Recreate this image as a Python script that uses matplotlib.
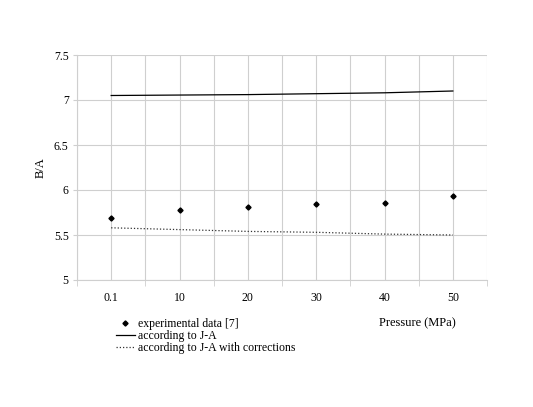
import matplotlib
matplotlib.use("Agg")
import matplotlib.pyplot as plt
import numpy as np

categories = ["0.1", "10", "20", "30", "40", "50"]
experimental = [5.69, 5.78, 5.81, 5.84, 5.86, 5.93]
ja = [7.05, 7.055, 7.06, 7.07, 7.08, 7.10]
ja_corr = [5.58, 5.56, 5.54, 5.53, 5.51, 5.50]
yticks = [5, 5.5, 6, 6.5, 7, 7.5]
ytick_labels = ["5", "5.5", "6", "6.5", "7", "7.5"]

plt.rcParams['font.family'] = 'serif'
plt.rcParams['font.serif'] = ['Liberation Serif', 'DejaVu Serif']
fs = 8.5
grid_c = "#cfcfcf"

fig = plt.figure(figsize=(5.33, 4.07), dpi=100)
ax = fig.add_axes([77/533, 1-280/407, (487-77)/533, (280-55)/407])

x = np.arange(len(categories))
ax.plot(x, experimental, linestyle="none", marker="D", markersize=2.6,
        color="black", label="experimental data [7]")
ax.plot(x, ja, color="black", linewidth=0.9, label="according to J-A")
ax.plot(x, ja_corr, color="#333333", linewidth=0.9, linestyle=(0, (1, 1.6)),
        label="according to J-A with corrections")

ax.set_xlim(-0.5, len(categories) - 0.5)
ax.set_ylim(5, 7.5)
ax.set_xticks(x)
ax.set_xticklabels(categories, fontsize=fs)
ax.set_xticks(np.arange(-0.5, len(categories), 1.0), minor=True)
ax.tick_params(axis="x", which="major", length=0, pad=8.5)
ax.tick_params(axis="x", which="minor", length=4, color=grid_c, direction="out")
ax.set_yticks(yticks)
ax.set_yticklabels(ytick_labels, fontsize=fs)
ax.tick_params(axis="y", length=3, color=grid_c, direction="out", pad=3)
ax.grid(True, which="both", color=grid_c, linewidth=0.8)
ax.set_axisbelow(True)
for s in ["top", "right"]:
    ax.spines[s].set_visible(False)
for s in ["left", "bottom"]:
    ax.spines[s].set_color(grid_c)
    ax.spines[s].set_linewidth(0.8)

ax.set_ylabel("B/A", fontsize=fs + 0.5, labelpad=5)
fig.text(417/533, 1-323/407, "Pressure (MPa)", fontsize=fs + 0.5,
         ha="center", va="center")

fig.legend(loc="upper left", bbox_to_anchor=(116/533, 1-318/407),
           frameon=False, fontsize=fs, borderpad=0, borderaxespad=0,
           handlelength=1.6, handletextpad=0.3, labelspacing=0.0)

fig.savefig("out.png", dpi=100)
